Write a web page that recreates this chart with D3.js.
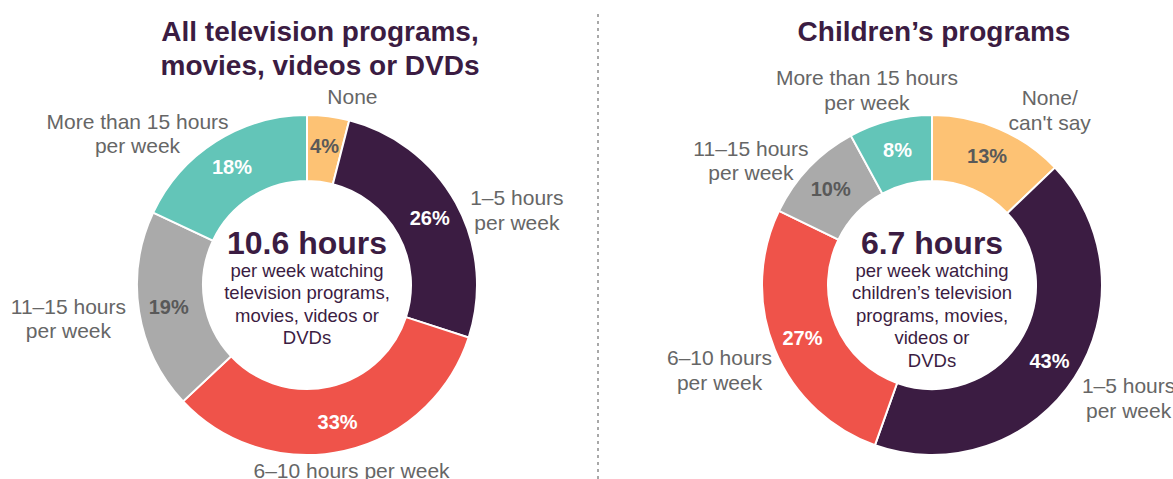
<!DOCTYPE html>
<html>
<head>
<meta charset="utf-8">
<script src="https://cdn.jsdelivr.net/npm/d3@7"></script>
<style>
  body { margin: 0; background: #fff; }
  text { font-family: "Liberation Sans", Arial, sans-serif; }
</style>
</head>
<body>
<div id="chart"></div>
<script>
//Slices, clockwise from the top
var leftCategories = ["None", "1–5 hours per week", "6–10 hours per week", "11–15 hours per week", "More than 15 hours per week"];
var leftValues = [4, 26, 33, 19, 18];
var leftLabelLines = [["None"], ["1–5 hours", "per week"], ["6–10 hours per week"], ["11–15 hours", "per week"], ["More than 15 hours", "per week"]];

var rightCategories = ["None/can't say", "1–5 hours per week", "6–10 hours per week", "11–15 hours per week", "More than 15 hours per week"];
var rightValues = [13, 43, 27, 10, 8];
var rightLabelLines = [["None/", "can't say"], ["1–5 hours", "per week"], ["6–10 hours", "per week"], ["11–15 hours", "per week"], ["More than 15 hours", "per week"]];

//Titles and centre texts
var leftTitle = ["All television programs,", "movies, videos or DVDs"];
var rightTitle = ["Children’s programs"];
var leftAverage = "10.6 hours";
var rightAverage = "6.7 hours";
var leftCentreLines = ["per week watching", "television programs,", "movies, videos or", "DVDs"];
var rightCentreLines = ["per week watching", "children’s television", "programs, movies,", "videos or", "DVDs"];

///////////////////////////////////////////////////////////////////////////
////////////////////////////// Setup ///////////////////////////////////////
///////////////////////////////////////////////////////////////////////////

var width = 1173,
    height = 479;

var purple = "#3b1c42";

//Colour of each category (same order in both donuts)
var color = d3.scaleOrdinal()
    .domain([0, 1, 2, 3, 4])
    .range(["#fdc274", "#3b1c42", "#ef534a", "#aaaaaa", "#63c5b8"]);

//Percent labels on light slices are dark grey, the rest white
var pctColor = ["#595959", "#ffffff", "#ffffff", "#595959", "#ffffff"];

var outerR = 170,
    innerR = 104;

var svg = d3.select("#chart").append("svg")
    .attr("width", width)
    .attr("height", height);

//Dotted divider
svg.append("line")
    .attr("x1", 598).attr("x2", 598)
    .attr("y1", 14).attr("y2", height)
    .attr("stroke", "#8c8c8c")
    .attr("stroke-width", 1.5)
    .attr("stroke-dasharray", "3,4");

var pie = d3.pie()
    .sort(null)
    .value(function(d) { return d; });

var arc = d3.arc()
    .innerRadius(innerR)
    .outerRadius(outerR);

var pctArc = d3.arc()
    .innerRadius(140)
    .outerRadius(140);

var labelArc = d3.arc()
    .innerRadius(195)
    .outerRadius(195);

function drawDonut(opt) {
  var g = svg.append("g")
      .attr("transform", "translate(" + opt.cx + "," + opt.cy + ")");

  var arcs = pie(opt.values);

  //Slices
  g.selectAll(".slice")
      .data(arcs)
      .enter().append("path")
      .attr("class", "slice")
      .attr("d", arc)
      .attr("fill", function(d, i) { return color(i); })
      .attr("stroke", "#fff")
      .attr("stroke-width", 2);

  //Percentages
  g.selectAll(".pct")
      .data(arcs)
      .enter().append("text")
      .attr("class", "pct")
      .attr("transform", function(d) { return "translate(" + pctArc.centroid(d) + ")"; })
      .attr("dy", "0.36em")
      .attr("text-anchor", "middle")
      .style("font-size", "20px")
      .style("font-weight", "bold")
      .attr("fill", function(d, i) { return pctColor[i]; })
      .text(function(d) { return d.data + "%"; });

  //Category labels outside the ring
  var lab = g.selectAll(".lab")
      .data(arcs)
      .enter().append("text")
      .attr("class", "lab")
      .attr("text-anchor", "middle")
      .style("font-size", "21px")
      .attr("fill", "#666666")
      .attr("transform", function(d, i) {
        var c = labelArc.centroid(d);
        return "translate(" + (c[0] + opt.nudge[i][0]) + "," + (c[1] + opt.nudge[i][1]) + ")";
      });

  lab.selectAll("tspan")
      .data(function(d, i) { return opt.lines[i]; })
      .enter().append("tspan")
      .attr("x", 0)
      .attr("y", function(d, j, nodes) { return (j - (nodes.length - 1) / 2) * 24.5; })
      .attr("dy", "0.36em")
      .text(function(d) { return d; });

  //Centre text
  g.append("text")
      .attr("text-anchor", "middle")
      .attr("y", -43)
      .attr("dy", "0.36em")
      .style("font-size", "32px")
      .style("font-weight", "bold")
      .attr("fill", purple)
      .text(opt.average);

  g.append("text")
      .attr("text-anchor", "middle")
      .style("font-size", "18.5px")
      .attr("fill", purple)
      .selectAll("tspan")
      .data(opt.centre)
      .enter().append("tspan")
      .attr("x", 0)
      .attr("y", function(d, j) { return -15 + j * 22.5; })
      .attr("dy", "0.36em")
      .text(function(d) { return d; });

  //Title
  svg.append("text")
      .attr("text-anchor", "middle")
      .style("font-size", "28px")
      .style("font-weight", "bold")
      .attr("fill", purple)
      .selectAll("tspan")
      .data(opt.title)
      .enter().append("tspan")
      .attr("x", opt.titleX)
      .attr("y", function(d, j) { return 31 + j * 34; })
      .attr("dy", "0.36em")
      .text(function(d) { return d; });
}

drawDonut({
  cx: 307, cy: 285,
  values: leftValues,
  lines: leftLabelLines,
  nudge: [[21, 5], [39, 19], [2, -5], [-46, 3], [-65, 13]],
  average: leftAverage,
  centre: leftCentreLines,
  title: leftTitle,
  titleX: 320
});

drawDonut({
  cx: 932, cy: 285,
  values: rightValues,
  lines: rightLabelLines,
  nudge: [[41, 4], [33, 7], [-32, 11], [-40, 10], [-17, -6]],
  average: rightAverage,
  centre: rightCentreLines,
  title: rightTitle,
  titleX: 934
});
</script>
</body>
</html>
